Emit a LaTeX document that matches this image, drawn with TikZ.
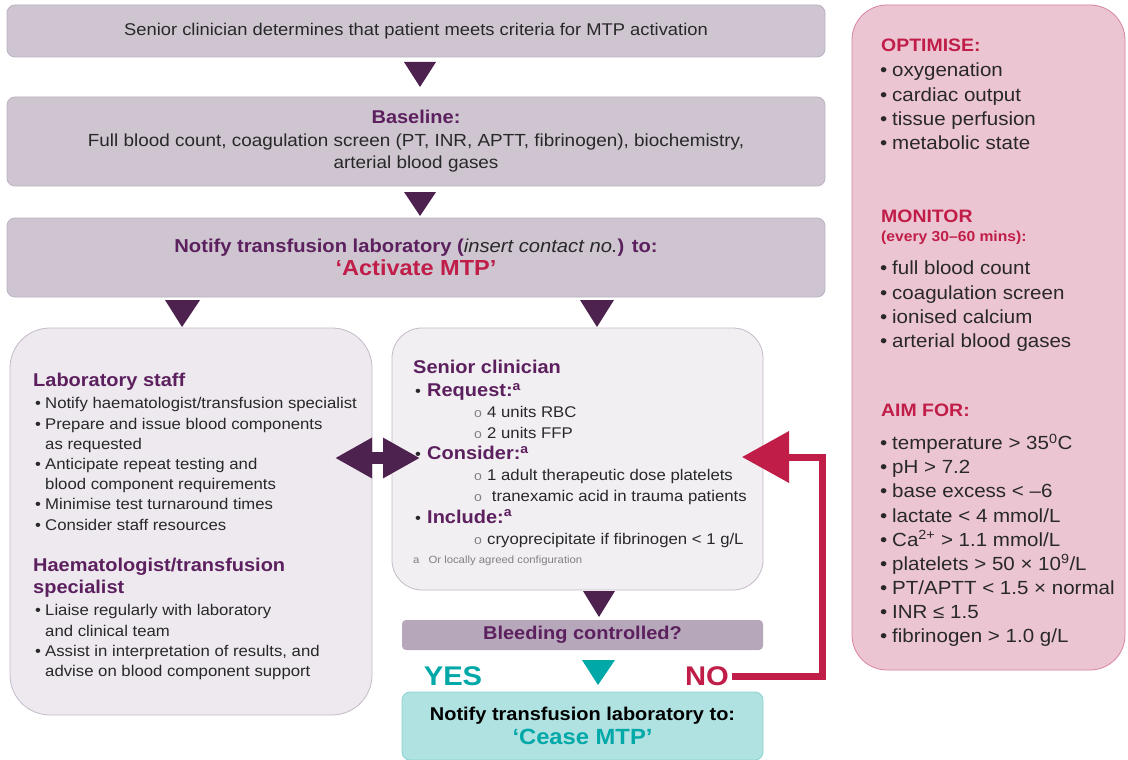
\documentclass[tikz,border=0pt]{standalone}
\usepackage{fontspec}
\setmainfont{Liberation Sans}[FakeStretch=1.08]
\usepackage{tikz}
\usetikzlibrary{arrows.meta}
\definecolor{boxgrey}{RGB}{206,197,209}
\definecolor{boxedge}{RGB}{188,178,192}
\definecolor{paleback}{RGB}{237,233,239}
\definecolor{paleedge}{RGB}{196,186,200}
\definecolor{clinback}{RGB}{242,239,243}
\definecolor{bleedgrey}{RGB}{182,167,187}
\definecolor{headpurple}{RGB}{92,32,94}
\definecolor{arrowpurple}{RGB}{78,34,78}
\definecolor{crimson}{RGB}{192,30,72}
\definecolor{tealtext}{RGB}{0,168,168}
\definecolor{tealback}{RGB}{176,226,226}
\definecolor{tealedge}{RGB}{140,210,210}
\definecolor{pinkback}{RGB}{236,197,211}
\definecolor{pinkedge}{RGB}{216,130,166}
\definecolor{bodytext}{RGB}{40,40,40}
\newcommand{\bitem}{\makebox[10pt][l]{\textbullet}}
\newcommand{\bcont}{\hspace*{10pt}}
\newcommand{\pitem}{\makebox[12pt][l]{\textbullet}}
\newcommand{\citem}{\makebox[12pt][l]{\mdseries\color{bodytext}\fontsize{15.5}{15.5}\selectfont\textbullet}}
\newcommand{\sitem}{\makebox[13pt][l]{\color{gray}\fontsize{13}{13}\selectfont o}}

\begin{document}
\begin{tikzpicture}[x=1pt,y=-1pt,
  greybox/.style={draw=boxedge, fill=boxgrey, rounded corners=8pt, line width=0.8pt, text=bodytext},
  palebox/.style={draw=paleedge, fill=paleback, rounded corners=40pt, line width=0.8pt},
  headtext/.style={anchor=west, inner sep=0pt, text=headpurple, font=\fontsize{18.5}{22}\selectfont\bfseries},
  listtext/.style={anchor=north west, inner sep=0pt, align=left, text=bodytext, font=\fontsize{15.5}{20.2}\selectfont},
  pinkhead/.style={anchor=west, inner sep=0pt, text=crimson, font=\fontsize{18}{20}\selectfont\bfseries},
  pinklist/.style={anchor=north west, inner sep=0pt, align=left, text=bodytext, font=\fontsize{19}{24.1}\selectfont},
  downtri/.style={fill=arrowpurple}]
\useasboundingbox[fill=white] (0,0) rectangle (1128,760);

% top row of boxes
\node[greybox, minimum width=818pt, minimum height=52pt, font=\fontsize{17}{19}\selectfont] (crit) at (416,31) {Senior clinician determines that patient meets criteria for MTP activation};
\node[greybox, minimum width=818pt, minimum height=89pt, align=center, font=\fontsize{17.5}{22.5}\selectfont] (base) at (416,141.5) {{\fontsize{18.5}{22.5}\selectfont\bfseries\color{headpurple}Baseline:}\\Full blood count, coagulation screen (PT, INR, APTT, fibrinogen), biochemistry,\\arterial blood gases};
\node[greybox, minimum width=818pt, minimum height=79pt, align=center, font=\fontsize{18.7}{23}\selectfont] (notif) at (416,257.5) {{\bfseries\color{headpurple}Notify transfusion laboratory (\mdseries\itshape\color{bodytext}insert contact no.\upshape\bfseries\color{headpurple}) to:}\\{\fontsize{21.8}{23}\selectfont\bfseries\color{crimson}‘Activate MTP’}};

\fill[downtri] (404,62) -- (436,62) -- (420,87) -- cycle;
\fill[downtri] (404,192) -- (436,192) -- (420,216) -- cycle;
\fill[downtri] (165,300) -- (200,300) -- (182,327) -- cycle;
\fill[downtri] (580,300) -- (614,300) -- (597,327) -- cycle;

% laboratory and haematologist
\node[palebox, minimum width=362pt, minimum height=387pt] (lab) at (191,521.5) {};
\node[headtext] (labhead) at (33,382) {Laboratory staff};
\node[listtext] (lablist) at (35,397.5) {\bitem Notify haematologist/transfusion specialist\\\bitem Prepare and issue blood components\\\bcont as requested\\\bitem Anticipate repeat testing and\\\bcont blood component requirements\\\bitem Minimise test turnaround times\\\bitem Consider staff resources};
\node[headtext, anchor=north west, align=left] (haemhead) at (33,558) {Haematologist/transfusion\\specialist};
\node[listtext] (haemlist) at (35,604.5) {\bitem Liaise regularly with laboratory\\\bcont and clinical team\\\bitem Assist in interpretation of results, and\\\bcont advise on blood component support};

% senior clinician
\node[palebox, fill=clinback, rounded corners=30pt, minimum width=371pt, minimum height=262pt] (clin) at (577.5,459) {};
\node[headtext] (clinhead) at (413,367) {Senior clinician};
\node[listtext, font=\fontsize{15.5}{21.1}\selectfont] (clinlist) at (415,383) {{\color{headpurple}\bfseries\fontsize{18.5}{21.1}\selectfont\citem Request:\textsuperscript{a}}\\\hspace*{59pt}\sitem 4 units RBC\\\hspace*{59pt}\sitem 2 units FFP\\{\color{headpurple}\bfseries\fontsize{18.5}{21.1}\selectfont\citem Consider:\textsuperscript{a}}\\\hspace*{59pt}\sitem 1 adult therapeutic dose platelets\\\hspace*{59pt}\sitem\ tranexamic acid in trauma patients\\{\color{headpurple}\bfseries\fontsize{18.5}{21.1}\selectfont\citem Include:\textsuperscript{a}}\\\hspace*{59pt}\sitem cryoprecipitate if fibrinogen < 1 g/L};
\node[anchor=west, inner sep=0pt, text=gray, font=\fontsize{10.5}{12}\selectfont] (clinnote) at (413,561) {a\hspace{9pt}Or locally agreed configuration};

\coordinate (dbll) at (335,458);
\coordinate (dblr) at (420,458);
\draw[arrowpurple, line width=12pt, {Triangle[length=37pt,width=38pt]}-{Triangle[length=37pt,width=38pt]}] (dbll) -- (dblr);

% decision
\fill[downtri] (583,591) -- (615,591) -- (599,617) -- cycle;
\node[greybox, draw=none, fill=bleedgrey, rounded corners=4pt, minimum width=361pt, minimum height=30pt, font=\fontsize{18.5}{20}\selectfont\bfseries, text=headpurple] (bleed) at (582.5,635) {Bleeding controlled?};
\node[text=tealtext, font=\fontsize{27}{28}\selectfont\bfseries] (yes) at (453,676) {YES};
\node[text=crimson, font=\fontsize{27}{28}\selectfont\bfseries] (no) at (707,676) {NO};
\fill[tealtext] (582,660) -- (615,660) -- (598,685) -- cycle;
\node[greybox, draw=tealedge, fill=tealback, minimum width=361pt, minimum height=68pt, align=center, font=\fontsize{18.5}{24}\selectfont\bfseries, text=black] (cease) at (582.5,726) {Notify transfusion laboratory to:\\{\fontsize{22}{24}\selectfont\color{tealtext}‘Cease MTP’}};

\coordinate (noend) at (742,457);
\draw[crimson, line width=7pt, -{Triangle[length=47pt,width=50pt]}] (no.east) -| (822,457) -- (noend);

% targets
\node[greybox, draw=pinkedge, fill=pinkback, rounded corners=35pt, minimum width=273pt, minimum height=665pt] (targ) at (988.5,337.5) {};
\node[pinkhead] (opthead) at (881,45) {OPTIMISE:};
\node[pinklist] (optlist) at (880,63) {\pitem oxygenation\\\pitem cardiac output\\\pitem tissue perfusion\\\pitem metabolic state};
\node[pinkhead] (monhead) at (881,216) {MONITOR};
\node[pinkhead, font=\fontsize{14.5}{16}\selectfont\bfseries] (monnote) at (881,238) {(every 30–60 mins):};
\node[pinklist] (monlist) at (880,261) {\pitem full blood count\\\pitem coagulation screen\\\pitem ionised calcium\\\pitem arterial blood gases};
\node[pinkhead] (aimhead) at (881,410) {AIM FOR:};
\node[pinklist] (aimlist) at (880,434) {\pitem temperature > 35\textsuperscript{0}C\\\pitem pH > 7.2\\\pitem base excess < –6\\\pitem lactate < 4 mmol/L\\\pitem Ca\textsuperscript{2+} > 1.1 mmol/L\\\pitem platelets > 50 × 10\textsuperscript{9}/L\\\pitem PT/APTT < 1.5 × normal\\\pitem INR ≤ 1.5\\\pitem fibrinogen > 1.0 g/L};
\end{tikzpicture}
\end{document}
